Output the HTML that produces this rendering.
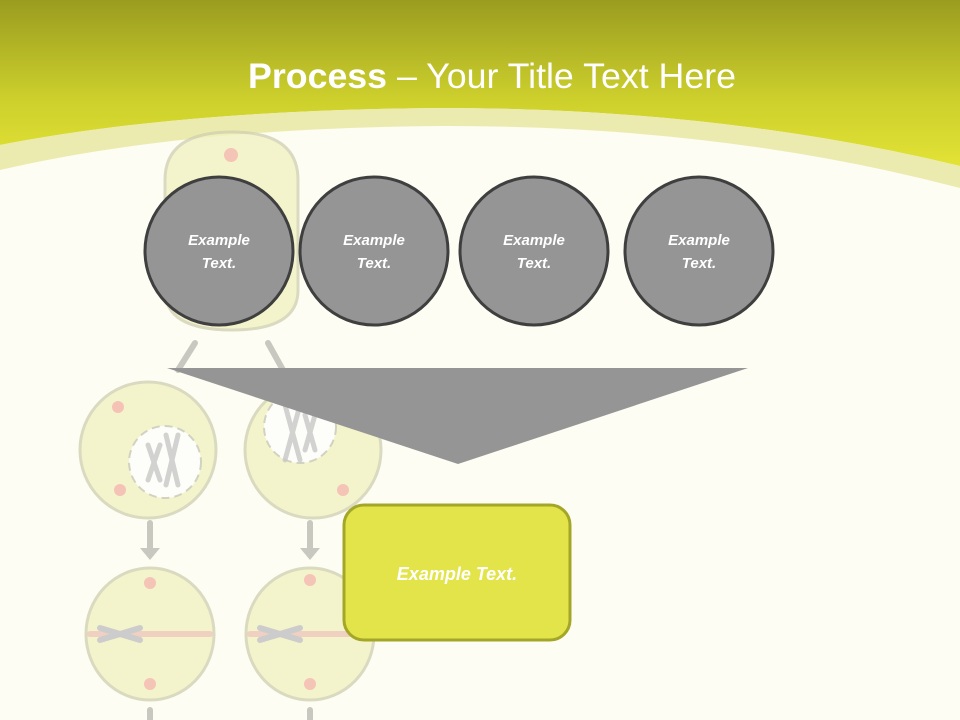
<!DOCTYPE html>
<html><head><meta charset="utf-8"><style>
html,body{margin:0;padding:0;}
body{width:960px;height:720px;overflow:hidden;background:#fdfdf3;font-family:"Liberation Sans",sans-serif;}
</style></head><body>
<svg width="960" height="720" viewBox="0 0 960 720" xmlns="http://www.w3.org/2000/svg" style="position:absolute;left:0;top:0">
<defs>
<linearGradient id="hg" x1="0" y1="0" x2="0" y2="1">
<stop offset="0" stop-color="#9a9c20"/><stop offset="0.6" stop-color="#cdd02c"/><stop offset="1" stop-color="#e2e236"/>
</linearGradient>
</defs>
<rect width="960" height="720" fill="#fdfdf3"/>
<path d="M0 0 H960 V166 Q720 108 440 108 Q180 110 0 145 Z" fill="url(#hg)"/>
<path d="M0 145 Q180 110 440 108 Q720 108 960 166 V188 Q720 125 440 126 Q180 128 0 170 Z" fill="#ebebb0"/>
<!-- faint cell illustration -->
<g opacity="0.75" stroke="#cfcfb0" stroke-width="3" fill="#f2f2c0">
<path d="M165 180 Q165 132 232 132 Q298 132 298 180 L298 290 Q298 330 232 330 Q165 330 165 290 Z"/>
<ellipse cx="148" cy="450" rx="68" ry="68"/>
<ellipse cx="313" cy="450" rx="68" ry="68"/>
<ellipse cx="150" cy="634" rx="64" ry="66"/>
<ellipse cx="310" cy="634" rx="64" ry="66"/>
</g>
<g fill="#ffffff" stroke="#cfcfc0" stroke-width="2" stroke-dasharray="8 5" opacity="0.9">
<circle cx="165" cy="462" r="36"/><circle cx="300" cy="427" r="36"/>
</g>
<g stroke="#c8c8c8" stroke-width="5" stroke-linecap="round" opacity="0.8">
<line x1="148" y1="445" x2="160" y2="480"/><line x1="160" y1="445" x2="148" y2="480"/>
<line x1="166" y1="435" x2="178" y2="485"/><line x1="178" y1="435" x2="166" y2="485"/>
<line x1="285" y1="405" x2="300" y2="460"/><line x1="300" y1="405" x2="285" y2="460"/>
<line x1="305" y1="415" x2="315" y2="450"/><line x1="315" y1="415" x2="305" y2="450"/>
</g>
<g stroke="#c8c8c0" stroke-width="6" fill="none" stroke-linecap="round">
<line x1="150" y1="523" x2="150" y2="552"/><line x1="310" y1="523" x2="310" y2="552"/>
<line x1="195" y1="343" x2="178" y2="370"/><line x1="268" y1="343" x2="283" y2="370"/>
<line x1="150" y1="710" x2="150" y2="720"/><line x1="310" y1="710" x2="310" y2="720"/>
<line x1="90" y1="634" x2="210" y2="634" stroke="#f0d0c0"/><line x1="250" y1="634" x2="370" y2="634" stroke="#f0d0c0"/>
<line x1="100" y1="628" x2="140" y2="640" stroke="#cccccc"/><line x1="100" y1="640" x2="140" y2="628" stroke="#cccccc"/>
<line x1="260" y1="628" x2="300" y2="640" stroke="#cccccc"/><line x1="260" y1="640" x2="300" y2="628" stroke="#cccccc"/>
</g>
<g fill="#c8c8c0"><polygon points="140,548 160,548 150,560"/><polygon points="300,548 320,548 310,560"/></g>
<g fill="#f4b8b0" opacity="0.8"><circle cx="231" cy="155" r="7"/><circle cx="118" cy="407" r="6"/><circle cx="120" cy="490" r="6"/><circle cx="343" cy="490" r="6"/><circle cx="150" cy="583" r="6"/><circle cx="150" cy="684" r="6"/><circle cx="310" cy="580" r="6"/><circle cx="310" cy="684" r="6"/></g>
<!-- circles -->
<g fill="#959595" stroke="#3f3f3f" stroke-width="3">
<circle cx="219" cy="251" r="74"/><circle cx="374" cy="251" r="74"/><circle cx="534" cy="251" r="74"/><circle cx="699" cy="251" r="74"/>
</g>
<g fill="#ffffff" font-size="15" font-weight="bold" font-style="italic" text-anchor="middle">
<text x="219" y="245">Example</text><text x="219" y="268">Text.</text>
<text x="374" y="245">Example</text><text x="374" y="268">Text.</text>
<text x="534" y="245">Example</text><text x="534" y="268">Text.</text>
<text x="699" y="245">Example</text><text x="699" y="268">Text.</text>
</g>
<polygon points="167,368 748,368 458,464" fill="#959595"/>
<rect x="344" y="505" width="226" height="135" rx="20" fill="#e3e34a" stroke="#a4a628" stroke-width="3"/>
<text x="457" y="580" fill="#ffffff" font-size="18" font-weight="bold" font-style="italic" text-anchor="middle">Example Text.</text>
<text x="492" y="88" fill="#ffffff" font-size="35" text-anchor="middle" textLength="488" lengthAdjust="spacingAndGlyphs"><tspan font-weight="bold">Process</tspan> – Your Title Text Here</text>
</svg>
</body></html>
